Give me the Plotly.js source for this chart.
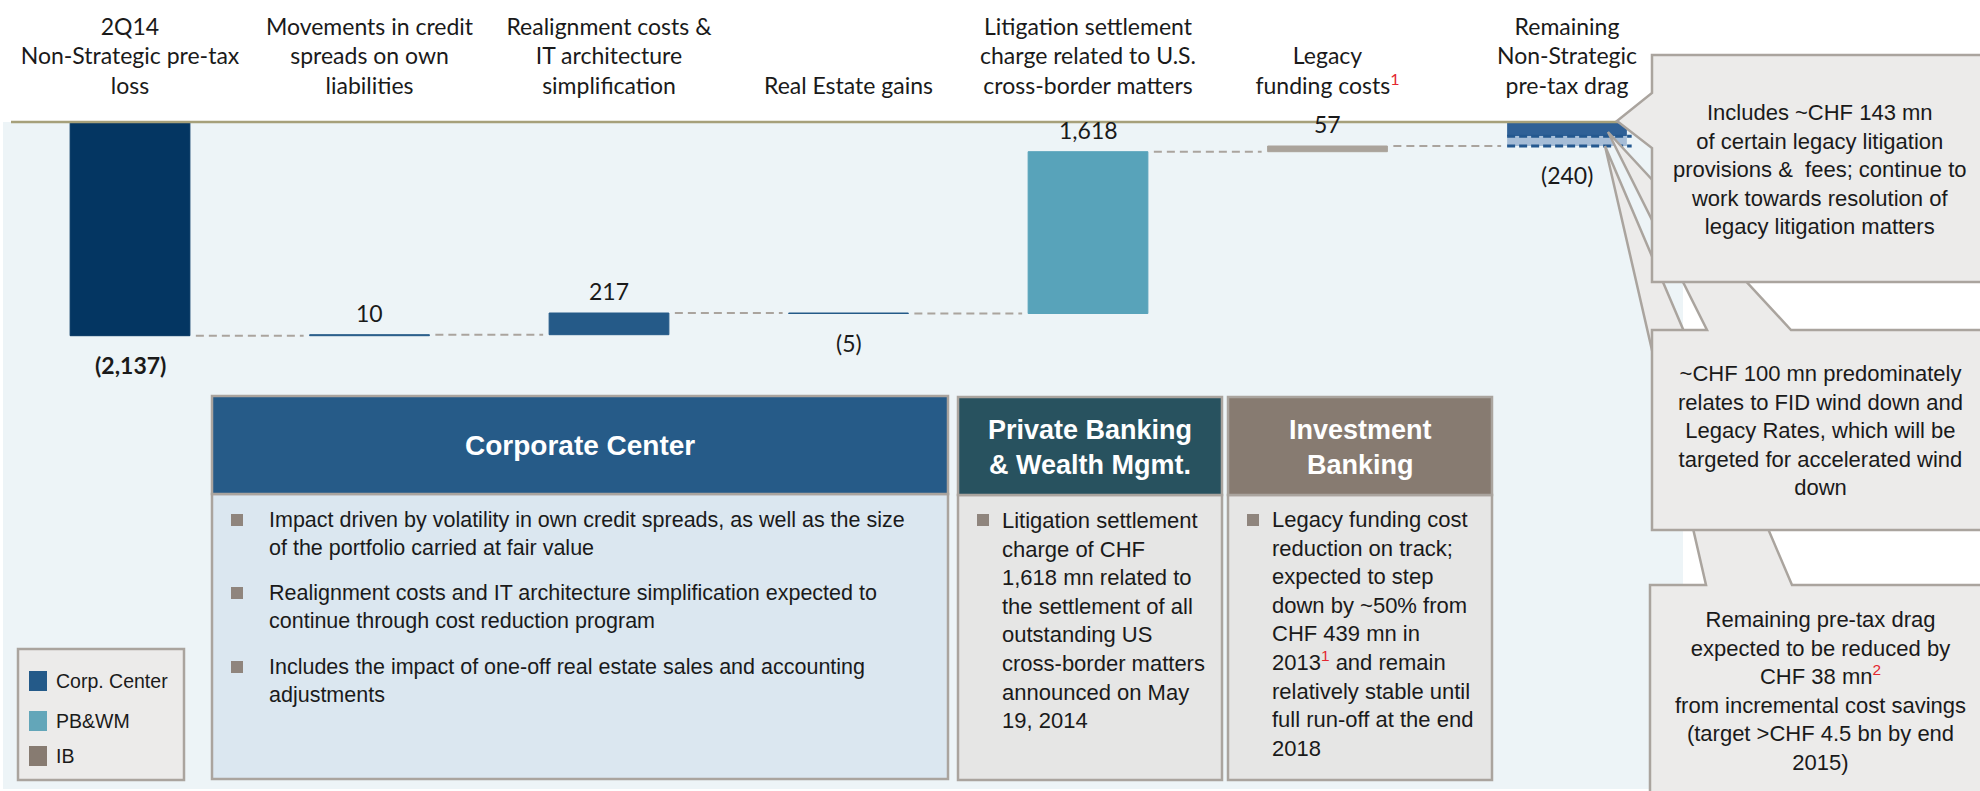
<!DOCTYPE html>
<html>
<head>
<meta charset="utf-8">
<script src="https://cdn.plot.ly/plotly-3.0.1.min.js"></script>
<style>
html,body{margin:0;padding:0;background:#ffffff;}
#chart{width:1980px;height:791px;}
</style>
</head>
<body>
<div id="chart"></div>
<script>
// ---------------- DATA ----------------
const categories = [
  '2Q14<br>Non-Strategic pre-tax<br>loss',
  'Movements in credit<br>spreads on own<br>liabilities',
  'Realignment costs &<br>IT architecture<br>simplification',
  'Real Estate gains',
  'Litigation settlement<br>charge related to U.S.<br>cross-border matters',
  'Legacy<br>funding costs<sup><span style="color:#e3262f">1</span></sup>',
  'Remaining<br>Non-Strategic<br>pre-tax drag'
];
const startValue = -2137;                 // 2Q14 Non-Strategic pre-tax loss
const changes = [10, 217, -5, 1618, 57];  // bridge items
const remainingParts = [-143, -97];       // legacy litigation (~143) and rest (FID / Legacy Rates)
const valueLabels = ['(2,137)', '10', '217', '(5)', '1,618', '57', '(240)'];
const barGroups = ['start', 'cc', 'cc', 'cc', 'pbwm', 'ib', 'end'];

const legendItems = ['Corp. Center', 'PB&WM', 'IB'];

const ccHeader = 'Corporate Center';
const ccBullets = [
  ['Impact driven by volatility in own credit spreads, as well as the size', 'of the portfolio carried at fair value'],
  ['Realignment costs and IT architecture simplification expected to', 'continue through cost reduction program'],
  ['Includes the impact of one-off real estate sales and accounting', 'adjustments']
];
const pbHeader = ['Private Banking', '& Wealth Mgmt.'];
const pbBullet = ['Litigation settlement', 'charge of CHF', '1,618 mn related to', 'the settlement of all',
  'outstanding US', 'cross-border matters', 'announced on May', '19, 2014'];
const ibHeader = ['Investment', 'Banking'];
const ibBullet = ['Legacy funding cost', 'reduction on track;', 'expected to step', 'down by ~50% from',
  'CHF 439 mn in', '2013<sup><span style="color:#e3262f">1</span></sup> and remain', 'relatively stable until',
  'full run-off at the end', '2018'];
const callout1 = ['Includes ~CHF 143 mn', 'of certain legacy litigation', 'provisions &amp;  fees; continue to',
  'work towards resolution of', 'legacy litigation matters'];
const callout2 = ['~CHF 100 mn predominately', 'relates to FID wind down and', 'Legacy Rates, which will be',
  'targeted for accelerated wind', 'down'];
const callout3 = ['Remaining pre-tax drag', 'expected to be reduced by',
  'CHF 38 mn<sup><span style="color:#e3262f">2</span></sup>', 'from incremental cost savings',
  '(target >CHF 4.5 bn by end', '2015)'];

// ---------------- STYLE ----------------
const groupColor = {start: '#043662', cc: '#255a88', pbwm: '#58a3ba', ib: '#aaa39b'};
const legendColors = ['#245a89', '#63a6b9', '#877b71'];
const endSegColors = ['#2f6096', '#a6bdd7'];
const labelFont = 'Lato, Calibri, "Open Sans", sans-serif';
const bodyFont = '"Liberation Sans", Arial, Helvetica, sans-serif';
const txt = '#1a1a1a';
const borderCol = '#aaa49e';

const W = 1980, H = 791, MT = 122, PH = H - MT;
const px = x => x / W;
const py = y => (H - y) / PH;

// ---------------- BARS (computed from data) ----------------
const n = categories.length;
const xs = categories.map((_, i) => i);
let level = startValue;
const barBase = [0], barLen = [startValue], levels = [startValue];
changes.forEach(c => { barBase.push(level); barLen.push(c); level += c; levels.push(level); });
const endValue = level; // -240

const mainColors = barGroups.slice(0, n - 1).map(g => groupColor[g]);
const mainBars = {
  type: 'bar', x: xs.slice(0, n - 1), y: barLen, base: barBase, width: 0.5,
  marker: {color: mainColors, line: {width: 1, color: mainColors}},
  hoverinfo: 'skip', showlegend: false
};
let segBase = 0;
const endBars = remainingParts.map((p, k) => {
  const t = {type: 'bar', x: [n - 1], y: [p], base: [segBase], width: 0.5,
    marker: {color: endSegColors[k], line: {width: 0}}, hoverinfo: 'skip', showlegend: false};
  segBase += p; return t;
});
// dashed outlines inside remaining bar
let acc = 0; const dx = [], dy = [];
remainingParts.forEach(p => { acc += p; dx.push(n - 1 - 0.25, n - 1 + 0.27, null); dy.push(acc, acc, null); });
const endDash = {type: 'scatter', mode: 'lines', x: dx, y: dy, line: {color: '#24588f', width: 3, dash: '8px,4px'},
  hoverinfo: 'skip', showlegend: false};

// connectors
const cx = [], cy = [];
levels.forEach((lv, i) => { cx.push(i + 0.275, i + 0.725, null); cy.push(lv, lv, null); });
const connectors = {type: 'scatter', mode: 'lines', x: cx, y: cy,
  line: {color: '#aaa49e', width: 2, dash: '8px,5px'}, hoverinfo: 'skip', showlegend: false};

// value labels
const annotations = [];
for (let i = 0; i < n; i++) {
  let a, b;
  if (i < n - 1) { a = barBase[i]; b = barBase[i] + barLen[i]; } else { a = 0; b = endValue; }
  const up = (i > 0 && i < n - 1 && barLen[i] > 0);
  annotations.push({
    xref: 'x', yref: 'y', x: i, y: up ? Math.max(a, b) : Math.min(a, b),
    yanchor: up ? 'bottom' : 'top', yshift: up ? 6 : -13, showarrow: false,
    text: i === 0 ? '<b>' + valueLabels[i] + '</b>' : valueLabels[i],
    font: {family: labelFont, size: 23, color: txt}
  });
}

// ---------------- TEXT BLOCK HELPER ----------------
function block(lines, x, yFirst, opt) {
  const size = opt.size || 22;
  const lh = 1.3 * size;
  const yc = yFirst + (lines.length - 1) / 2 * lh;
  annotations.push({
    xref: 'paper', yref: 'paper', x: px(x), y: py(yc), xanchor: opt.xanchor || 'left', yanchor: 'middle',
    align: opt.align || 'left', showarrow: false, text: lines.join('<br>'),
    font: {family: opt.family || bodyFont, size: size, color: opt.color || txt}
  });
}

// ---------------- SHAPES ----------------
const shapes = [];
function rect(x0, y0, x1, y1, fill, line, lw, layer) {
  shapes.push({type: 'rect', xref: 'paper', yref: 'paper', x0: px(x0), x1: px(x1), y0: py(y1), y1: py(y0),
    fillcolor: fill, line: {color: line || 'rgba(0,0,0,0)', width: lw || 0}, layer: layer || 'above'});
}
function poly(pts, fill, line, lw) {
  const d = pts.map((p, k) => (k ? 'L' : 'M') + px(p[0]).toFixed(5) + ',' + py(p[1]).toFixed(5)).join(' ') + ' Z';
  shapes.push({type: 'path', xref: 'paper', yref: 'paper', path: d, fillcolor: fill,
    line: {color: line, width: lw}, layer: 'above'});
}

// background panel
rect(3, 122, 1683, 789, '#edf4f7', null, 0, 'below');
// top rule
shapes.push({type: 'line', xref: 'paper', yref: 'paper', x0: px(11), x1: px(1620), y0: py(122), y1: py(122),
  line: {color: '#a6a07a', width: 2.5}, layer: 'above'});

// Corporate Center box
rect(212, 494, 948, 779, '#dbe7f0', borderCol, 2.5);
rect(212, 396, 948, 494, '#265b88', borderCol, 2.5);
// PB&WM box
rect(958, 495, 1222, 780, '#e6e6e5', borderCol, 2.5);
rect(958, 397, 1222, 495, '#28525f', borderCol, 2.5);
// IB box
rect(1228, 495, 1492, 780, '#e6e6e5', borderCol, 2.5);
rect(1228, 397, 1492, 495, '#877b71', borderCol, 2.5);

// bullets
const bulletCol = '#8f857d';
const ccFirst = [520, 593, 667];
ccFirst.forEach(y => rect(231, y - 6, 243, y + 6, bulletCol));
rect(977, 514, 989, 526, bulletCol);
rect(1247, 514, 1259, 526, bulletCol);

// legend box
rect(18, 649, 184, 780, '#ecebea', borderCol, 2.5);
const legY = [681, 721, 756];
legendItems.forEach((t, k) => {
  rect(29, legY[k] - 10, 47, legY[k] + 10, legendColors[k]);
  block([t], 54, legY[k], {size: 19.5});
});

// callouts (bottom one first so upper ones overlap)
const cFill = '#ecebea';
poly([[1650, 585], [1706, 585], [1605, 146], [1792, 585], [1995, 585], [1995, 800], [1650, 800]], cFill, borderCol, 2.5);
poly([[1652, 330], [1707, 330], [1608, 132], [1791, 330], [1995, 330], [1995, 530], [1652, 530]], cFill, borderCol, 2.5);
poly([[1652, 55], [1995, 55], [1995, 282], [1652, 282], [1652, 148], [1617, 121], [1652, 93]], cFill, borderCol, 2.5);

// ---------------- TEXT ----------------
block(['<b>' + ccHeader + '</b>'], 580, 445, {size: 28, xanchor: 'center', align: 'center', color: '#ffffff'});
ccBullets.forEach((b, k) => block(b, 267, ccFirst[k], {size: 21.5}));

block(['<b>' + pbHeader[0] + '</b>', '<b>' + pbHeader[1] + '</b>'], 1090, 430, {size: 27, xanchor: 'center', align: 'center', color: '#ffffff'});
block(pbBullet, 1000, 520, {size: 22});
block(['<b>' + ibHeader[0] + '</b>', '<b>' + ibHeader[1] + '</b>'], 1360, 430, {size: 27, xanchor: 'center', align: 'center', color: '#ffffff'});
block(ibBullet, 1270, 520, {size: 22});

block(callout1, 1820, 112, {size: 22, xanchor: 'center', align: 'center'});
block(callout2, 1820, 373, {size: 22, xanchor: 'center', align: 'center'});
block(callout3, 1820, 619, {size: 22, xanchor: 'center', align: 'center'});

// ---------------- LAYOUT ----------------
const layout = {
  width: W, height: H,
  margin: {l: 0, r: 0, t: MT, b: 0, pad: 0},
  paper_bgcolor: '#ffffff', plot_bgcolor: 'rgba(0,0,0,0)',
  barmode: 'overlay', showlegend: false,
  xaxis: {
    range: [-130 / 239.5, (W - 130) / 239.5], side: 'top', tickmode: 'array', tickvals: xs, ticktext: categories,
    ticks: '', showgrid: false, zeroline: false, showline: false, automargin: false, ticklabelstandoff: 22,
    tickfont: {family: labelFont, size: 23, color: txt}, fixedrange: true
  },
  yaxis: {range: [-PH * 10, 0], visible: false, fixedrange: true, automargin: false},
  shapes: shapes,
  annotations: annotations
};

Plotly.newPlot('chart', [connectors, mainBars].concat(endBars, [endDash]), layout, {staticPlot: true, displayModeBar: false});
</script>
</body>
</html>
